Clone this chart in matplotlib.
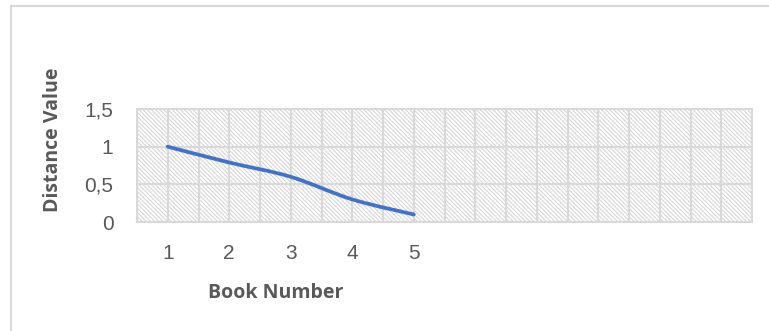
import numpy as np
import matplotlib
matplotlib.use("Agg")
import matplotlib.pyplot as plt
from matplotlib.path import Path
from matplotlib.patches import PathPatch, Rectangle
from matplotlib.ticker import MultipleLocator, FuncFormatter
from matplotlib.lines import Line2D

# ---- data ----
book_number = [1, 2, 3, 4, 5]
distance_value = [1.0, 0.79, 0.6, 0.3, 0.1]
x_tick_labels = ["1", "2", "3", "4", "5"]
y_ticks = [0, 0.5, 1, 1.5]

TXT = "#595959"
GRID = "#d9d9d9"
LINE = "#4472C4"

plt.rcParams['hatch.color'] = "#d6d6d6"
plt.rcParams['hatch.linewidth'] = 0.8

fig = plt.figure(figsize=(7.69, 3.31), dpi=100)
ax = fig.add_axes([137 / 769, 1 - 222 / 331, (752 - 137) / 769, (222 - 109) / 331])

ax.set_xlim(0.5, 10.5)
ax.set_ylim(0, 1.5)

# hatched plot area
ax.add_patch(Rectangle((0, 0), 1, 1, transform=ax.transAxes, facecolor="white",
                       edgecolor="#d6d6d6", hatch="\\" * 8, linewidth=0, zorder=0))

# grid: every half step on x, every 0.5 on y
ax.xaxis.set_minor_locator(MultipleLocator(0.5))
ax.set_yticks(y_ticks)
ax.grid(which="both", axis="x", color=GRID, linewidth=1.5, zorder=1)
ax.grid(which="major", axis="y", color=GRID, linewidth=1.5, zorder=1)
ax.set_axisbelow(True)

ax.set_xticks(book_number)
ax.set_xticklabels(x_tick_labels)
ax.yaxis.set_major_formatter(FuncFormatter(lambda v, p: f"{v:g}".replace(".", ",")))
ax.tick_params(which="both", length=0)
ax.tick_params(axis="x", pad=16, labelsize=15, labelcolor=TXT)
ax.tick_params(axis="y", pad=17, labelsize=15, labelcolor=TXT)
for lab in ax.get_xticklabels() + ax.get_yticklabels():
    lab.set_fontfamily("Liberation Sans")

for s in ax.spines.values():
    s.set_color(GRID)
    s.set_linewidth(1.5)

# smoothed line (Excel-style bezier through the points)
x = np.array(book_number, dtype=float)
y = np.array(distance_value)
verts = [(x[0], y[0])]
codes = [Path.MOVETO]
n = len(x)
for i in range(n - 1):
    p0 = np.array([x[max(i - 1, 0)], y[max(i - 1, 0)]])
    p1 = np.array([x[i], y[i]])
    p2 = np.array([x[i + 1], y[i + 1]])
    p3 = np.array([x[min(i + 2, n - 1)], y[min(i + 2, n - 1)]])
    c1 = p1 + (p2 - p0) / 6
    c2 = p2 - (p3 - p1) / 6
    verts += [tuple(c1), tuple(c2), tuple(p2)]
    codes += [Path.CURVE4] * 3
ax.add_patch(PathPatch(Path(verts, codes), facecolor="none", edgecolor=LINE,
                       linewidth=2.7, capstyle="round", joinstyle="round", zorder=3))

ax.set_xlabel("Book Number", fontsize=14, fontweight="bold", color=TXT, family="Open Sans")
ax.xaxis.set_label_coords((276 - 137) / (752 - 137), -(293 - 222) / (222 - 109), transform=ax.transAxes)
ax.xaxis.label.set_va("center")
ax.set_ylabel("Distance Value", fontsize=14, fontweight="bold", color=TXT, family="Open Sans")
ax.yaxis.set_label_coords(-(137 - 53) / (752 - 137), (222 - 140) / (222 - 109), transform=ax.transAxes)
ax.yaxis.label.set_va("center")

# outer chart border (left and top visible)
fig.add_artist(Line2D([11 / 769, 11 / 769], [0, 1 - 6 / 331], color=GRID, linewidth=1.5))
fig.add_artist(Line2D([11 / 769, 1], [1 - 6 / 331, 1 - 6 / 331], color=GRID, linewidth=1.5))

fig.savefig("out.png", dpi=100)
